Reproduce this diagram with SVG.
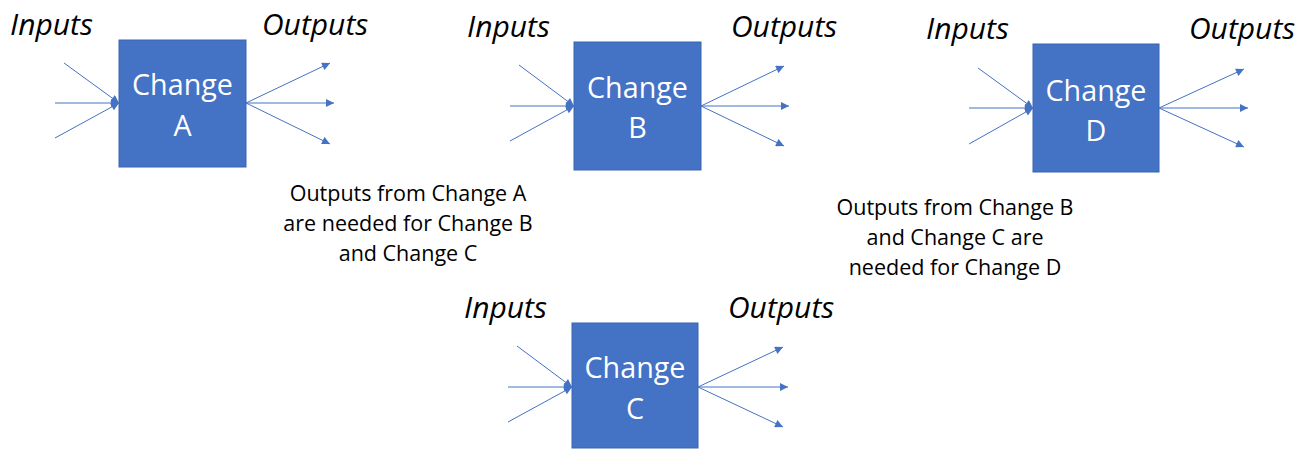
<svg xmlns="http://www.w3.org/2000/svg" width="1309" height="450" viewBox="0 0 1309 450">
<style>
.box{fill:#4472C4;stroke:#3A64B0;stroke-width:1}
.lbl{font-family:"Open Sans","Liberation Sans",sans-serif;font-style:italic;font-size:30px;fill:#000}
.cap{font-family:"Open Sans","Liberation Sans",sans-serif;font-size:28.7px;fill:#fff;text-anchor:middle}
.note{font-family:"Open Sans","Liberation Sans",sans-serif;font-size:21.5px;fill:#000;text-anchor:middle}
.ln{stroke:#4472C4;stroke-width:1;fill:none;marker-end:url(#ah)}
</style>
<defs>
<marker id="ah" viewBox="0 0 10 10" refX="10" refY="5" markerUnits="userSpaceOnUse" markerWidth="9" markerHeight="8" orient="auto">
<path d="M0,0 L10,5 L0,10 z" fill="#4472C4"/>
</marker>
</defs>
<g id="nodeA">
<rect class="box" x="119" y="40" width="127" height="127"/>
<text class="cap" x="182.5" y="95">Change</text>
<text class="cap" x="182.5" y="136">A</text>
<text class="lbl" x="10" y="35">Inputs</text>
<text class="lbl" x="262" y="35">Outputs</text>
</g>
<g id="nodeB">
<rect class="box" x="574" y="42" width="127" height="128"/>
<text class="cap" x="637.5" y="98">Change</text>
<text class="cap" x="637.5" y="138">B</text>
<text class="lbl" x="467" y="37">Inputs</text>
<text class="lbl" x="731" y="37">Outputs</text>
</g>
<g id="nodeD">
<rect class="box" x="1033" y="44" width="126" height="128"/>
<text class="cap" x="1096" y="101">Change</text>
<text class="cap" x="1096" y="141">D</text>
<text class="lbl" x="926" y="39">Inputs</text>
<text class="lbl" x="1189" y="39">Outputs</text>
</g>
<g id="nodeC">
<rect class="box" x="572" y="323" width="126" height="125"/>
<text class="cap" x="635" y="378">Change</text>
<text class="cap" x="635" y="419">C</text>
<text class="lbl" x="464" y="318">Inputs</text>
<text class="lbl" x="728" y="318">Outputs</text>
</g>
<g id="note1">
<text class="note" x="408" y="201">Outputs from Change A</text>
<text class="note" x="408" y="231">are needed for Change B</text>
<text class="note" x="408" y="261">and Change C</text>
</g>
<g id="note2">
<text class="note" x="955" y="215">Outputs from Change B</text>
<text class="note" x="955" y="245">and Change C are</text>
<text class="note" x="955" y="275">needed for Change D</text>
</g>
<g id="connectors">
<line class="ln" x1="64" y1="63" x2="119" y2="103"/>
<line class="ln" x1="55" y1="103" x2="119" y2="103"/>
<line class="ln" x1="55" y1="138" x2="119" y2="103"/>
<line class="ln" x1="246" y1="103" x2="330" y2="63"/>
<line class="ln" x1="246" y1="103" x2="334" y2="103"/>
<line class="ln" x1="246" y1="103" x2="330" y2="144"/>

<line class="ln" x1="519" y1="65" x2="574" y2="106"/>
<line class="ln" x1="510" y1="106" x2="574" y2="106"/>
<line class="ln" x1="510" y1="141" x2="574" y2="106"/>
<line class="ln" x1="701" y1="106" x2="784" y2="66"/>
<line class="ln" x1="701" y1="106" x2="789" y2="106"/>
<line class="ln" x1="701" y1="106" x2="784" y2="146"/>

<line class="ln" x1="978" y1="68" x2="1033" y2="108"/>
<line class="ln" x1="969" y1="108" x2="1033" y2="108"/>
<line class="ln" x1="969" y1="144" x2="1033" y2="108"/>
<line class="ln" x1="1159" y1="108" x2="1244" y2="69"/>
<line class="ln" x1="1159" y1="108" x2="1248" y2="108"/>
<line class="ln" x1="1159" y1="108" x2="1244" y2="147"/>

<line class="ln" x1="517" y1="346" x2="572" y2="387"/>
<line class="ln" x1="508" y1="387" x2="572" y2="387"/>
<line class="ln" x1="508" y1="422" x2="572" y2="387"/>
<line class="ln" x1="698" y1="387" x2="783" y2="347"/>
<line class="ln" x1="698" y1="387" x2="788" y2="387"/>
<line class="ln" x1="698" y1="387" x2="783" y2="427"/>
</g>
</svg>
